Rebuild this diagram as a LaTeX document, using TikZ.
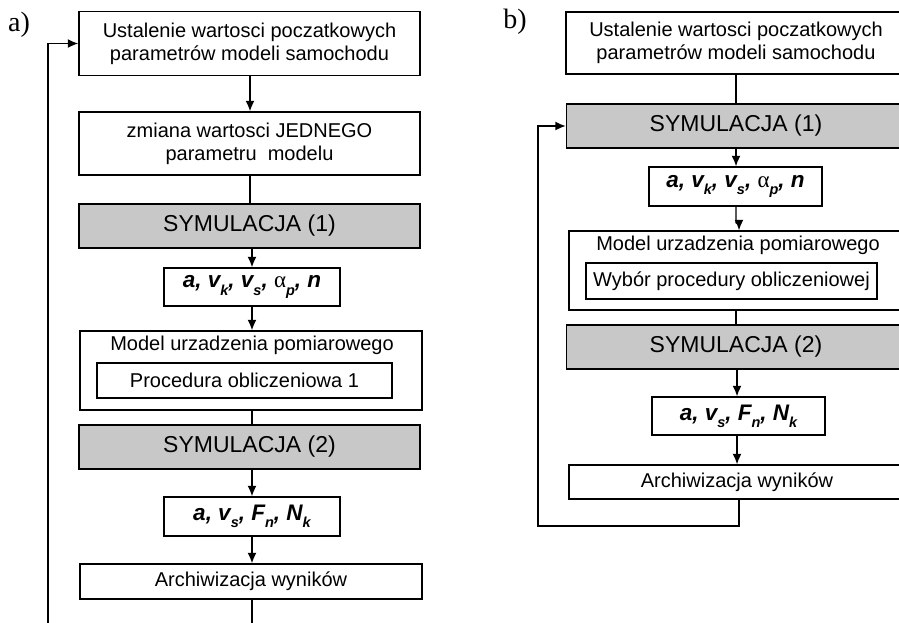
\documentclass[tikz,border=0pt]{standalone}
\usepackage{fontspec}
\setmainfont{Liberation Sans}
\newfontfamily\serifnum{Liberation Serif}
\usetikzlibrary{arrows.meta}
\definecolor{simgray}{RGB}{200,200,200}
\newcommand{\lowidx}[1]{\raisebox{-0.32em}{\fontsize{14.5}{14.5}\selectfont #1}}
\newcommand{\alphap}{{\serifnum\upshape\mdseries\fontsize{23}{23}\selectfont α}\lowidx{p}}
\tikzset{
  x=1pt, y=1pt,
  box/.style={draw, line width=1.4pt, fill=white, align=center, inner sep=0pt,
    font=\fontsize{20}{23}\selectfont},
  plaintext/.style={inner sep=0pt, font=\fontsize{20}{23}\selectfont},
  simbox/.style={box, fill=simgray, font=\fontsize{23}{25}\selectfont},
  varbox/.style={box, font=\fontsize{22.5}{24}\selectfont\bfseries\itshape},
  conn/.style={line width=1.4pt},
  arr/.style={conn, -{Latex[length=10.5pt,width=9pt]}},
  panellabel/.style={font=\serifnum\fontsize{28}{28}\selectfont, inner sep=0pt}
}
\begin{document}
\begin{tikzpicture}
\path[use as bounding box] (0,0) rectangle (899,-622);
\clip (0,0) rectangle (899,-622);

% ---------------- panel a ----------------
\node[panellabel] (la) at (19,-25) {a)};
\node[box, minimum width=341, minimum height=64] (a1) at (249.5,-43.5)
  {Ustalenie wartosci poczatkowych\\parametrów modeli samochodu};
\node[box, minimum width=341, minimum height=63] (a2) at (249.5,-143.5)
  {zmiana wartosci JEDNEGO\\parametru\ \ modelu};
\node[simbox, minimum width=341, minimum height=44] (a3) at (249.5,-226)
  {SYMULACJA (1)};
\node[varbox, minimum width=176, minimum height=38] (a4) at (252,-287)
  {a, v\lowidx{k}, v\lowidx{s}, \alphap, n};
\node[box, minimum width=342, minimum height=79] (a5) at (251,-370.5) {};
\node[plaintext] (a5t) at (252,-345) {Model urzadzenia pomiarowego};
\node[box, minimum width=295, minimum height=35] (a5i) at (244.5,-380.5)
  {Procedura obliczeniowa 1};
\node[simbox, minimum width=341, minimum height=44] (a6) at (249.5,-447)
  {SYMULACJA (2)};
\node[varbox, minimum width=176, minimum height=39] (a7) at (252,-516.5)
  {a, v\lowidx{s}, F\lowidx{n}, N\lowidx{k}};
\node[box, minimum width=342, minimum height=35] (a8) at (251,-581.5)
  {Archiwizacja wyników};
\coordinate (aloop) at (48,-650);

\draw[arr] (a1.south -| 250,0) -- (a2.north -| 250,0);
\draw[conn] (a2.south -| 250,0) -- (a3.north -| 250,0);
\draw[arr] (a3.south -| 252,0) -- (a4.north -| 252,0);
\draw[arr] (a4.south -| 252,0) -- (a5.north -| 252,0);
\draw[conn] (a5.south -| 252,0) -- (a6.north -| 252,0);
\draw[arr] (a6.south -| 252,0) -- (a7.north -| 252,0);
\draw[arr] (a7.south -| 252,0) -- (a8.north -| 252,0);
\draw[arr] (a8.south -| 252,0) |- (aloop) |- (a1.west);

% ---------------- panel b ----------------
\node[panellabel] (lb) at (515,-22) {b)};
\node[box, minimum width=340, minimum height=62] (b1) at (736,-43)
  {Ustalenie wartosci poczatkowych\\parametrów modeli samochodu};
\node[simbox, minimum width=339, minimum height=44] (b2) at (736,-126)
  {SYMULACJA (1)};
\node[varbox, minimum width=173, minimum height=39] (b3) at (735.5,-186.5)
  {a, v\lowidx{k}, v\lowidx{s}, \alphap, n};
\node[box, minimum width=336, minimum height=79] (b4) at (737,-270.5) {};
\node[plaintext] (b4t) at (738,-245) {Model urzadzenia pomiarowego};
\node[box, minimum width=291, minimum height=36] (b4i) at (731.5,-281)
  {Wybór procedury obliczeniowej};
\node[simbox, minimum width=339, minimum height=44] (b5) at (736,-347)
  {SYMULACJA (2)};
\node[varbox, minimum width=173, minimum height=38] (b6) at (738.5,-416)
  {a, v\lowidx{s}, F\lowidx{n}, N\lowidx{k}};
\node[box, minimum width=336, minimum height=34] (b7) at (737,-482)
  {Archiwizacja wyników};
\coordinate (bloop) at (538,-526);

\draw[conn] (b1.south -| 736,0) -- (b2.north -| 736,0);
\draw[arr] (b2.south -| 736,0) -- (b3.north -| 736,0);
\draw[arr] (b3.south -| 736,0) -- ++(0,-16) -- ++(3,-2) -- (b4.north -| 739,0);
\draw[conn] (b4.south -| 736,0) -- (b5.north -| 736,0);
\draw[arr] (b5.south -| 737,0) -- (b6.north -| 737,0);
\draw[arr] (b6.south -| 737,0) -- (b7.north -| 737,0);
\draw[arr] (b7.south -| 739,0) |- (bloop) |- (b2.west);
\end{tikzpicture}
\end{document}
